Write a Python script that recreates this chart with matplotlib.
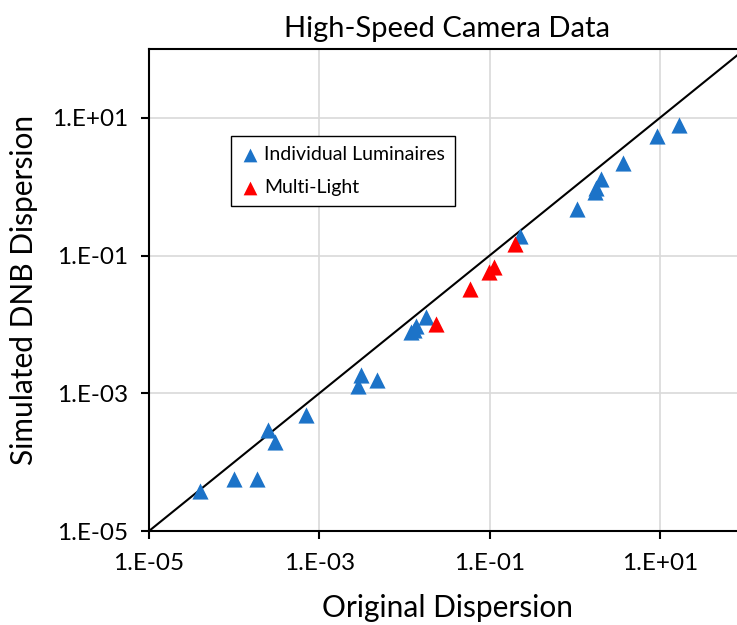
import matplotlib
matplotlib.use("Agg")
import matplotlib.pyplot as plt
from matplotlib.ticker import FixedLocator, NullLocator, FixedFormatter

plt.rcParams['font.family'] = ['Lato', 'DejaVu Sans']

# Individual luminaires
ind_x = [4.0e-5, 1.0e-4, 1.84e-4, 2.47e-4, 3.0e-4, 7.0e-4, 2.82e-3, 3.13e-3, 4.75e-3,
         1.19e-2, 1.31e-2, 1.36e-2, 1.78e-2, 0.23, 1.06, 1.71, 1.76, 2.04, 3.65, 9.2, 17.0]
ind_y = [3.85e-5, 5.7e-5, 5.7e-5, 2.9e-4, 1.95e-4, 4.85e-4, 1.29e-3, 1.82e-3, 1.57e-3,
         7.7e-3, 8.3e-3, 9.4e-3, 1.29e-2, 0.195, 0.47, 0.85, 0.97, 1.28, 2.24, 5.4, 7.9]

# Multi-light
multi_x = [2.32e-2, 5.86e-2, 9.9e-2, 1.13e-1, 1.98e-1]
multi_y = [1.01e-2, 3.3e-2, 5.8e-2, 6.8e-2, 0.149]

# 1:1 line
line_x = [1e-5, 1e2]
line_y = [1e-5, 1e2]

tick_vals = [1e-5, 1e-3, 1e-1, 1e1]
tick_labels = ["1.E-05", "1.E-03", "1.E-01", "1.E+01"]

fig = plt.figure(figsize=(7.37, 6.25), dpi=100)
ax = fig.add_axes([149/737, 1 - 531/625, (745 - 149)/737, (531 - 49)/625])

ax.set_xscale('log')
ax.set_yscale('log')
ax.set_xlim(1e-5, 1e2)
ax.set_ylim(1e-5, 1e2)

ax.plot(line_x, line_y, color='black', lw=1.5, zorder=2)
ax.scatter(ind_x, ind_y, marker='^', s=135, color='#1C73C8', linewidths=0,
           label='Individual Luminaires', zorder=3)
ax.scatter(multi_x, multi_y, marker='^', s=135, color='#FF0000', linewidths=0,
           label='Multi-Light', zorder=3)

for axis in (ax.xaxis, ax.yaxis):
    axis.set_major_locator(FixedLocator(tick_vals))
    axis.set_major_formatter(FixedFormatter(tick_labels))
    axis.set_minor_locator(NullLocator())

ax.grid(True, which='major', color='#D9D9D9', lw=1.2, zorder=0)
ax.set_axisbelow(True)
ax.tick_params(axis='x', which='major', direction='out', length=6, width=1.5,
               labelsize=17.5, pad=10, color='black')
ax.tick_params(axis='y', which='major', direction='out', length=6, width=1.5,
               labelsize=17.5, pad=9, color='black')

for s in ['left', 'bottom', 'top', 'right']:
    ax.spines[s].set_linewidth(1.5)
    ax.spines[s].set_color('black')

ax.set_title('High-Speed Camera Data', fontsize=21, pad=9)
ax.set_xlabel('Original Dispersion', fontsize=21.5, labelpad=14)
ax.set_ylabel('Simulated DNB Dispersion', fontsize=21.5, labelpad=10)

leg = ax.legend(loc='upper left', bbox_to_anchor=(0.1376, 0.8195), fontsize=14,
                frameon=True, fancybox=False, edgecolor='black', framealpha=1,
                handletextpad=0.2, handlelength=1.0, borderpad=0.5, labelspacing=0.85,
                markerscale=0.85, borderaxespad=0)
leg.get_frame().set_linewidth(1.0)

fig.savefig('out.png', dpi=100)
